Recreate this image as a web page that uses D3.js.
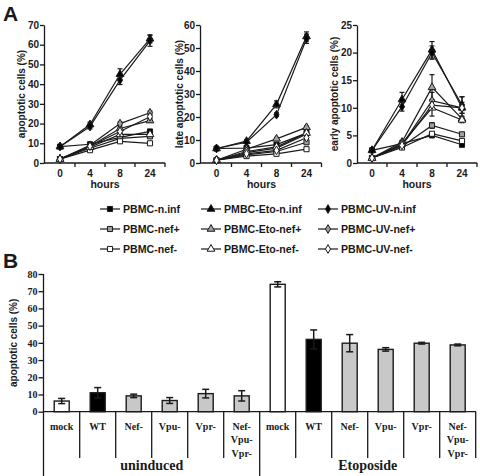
<!DOCTYPE html>
<html><head><meta charset="utf-8">
<script src="https://cdn.jsdelivr.net/npm/d3@7"></script>
<style>body{margin:0;background:#fff} svg{display:block}</style>
</head><body><svg id="c" width="480" height="476"></svg>
<script>
// ---------- Panel A data ----------
const hours = ["0", "4", "8", "24"];
const seriesNames = ["PBMC-n.inf", "PMBC-Eto-n.inf", "PBMC-UV-n.inf",
  "PBMC-nef+", "PBMC-Eto-nef+", "PBMC-UV-nef+",
  "PBMC-nef-", "PBMC-Eto-nef-", "PBMC-UV-nef-"];
const seriesShapes = ["square", "triangle", "diamond", "square", "triangle", "diamond", "square", "triangle", "diamond"];
const seriesFills = ["#000", "#000", "#000", "#a0a0a0", "#a0a0a0", "#a0a0a0", "#fff", "#fff", "#fff"];

const apoptotic = [
  [8.3, 9.5, 13, 16],
  [8.3, 19.5, 45, 63],
  [8.3, 18.5, 42, 62],
  [2, 7.5, 12.5, 13.5],
  [2, 8.5, 17.5, 21.5],
  [2, 9, 20, 25.5],
  [2, 6.5, 11, 10],
  [2, 8, 14.5, 14.5],
  [2, 8.5, 16, 23.5]];
const apoptoticErr = [
  [0.3, 0.6, 0.8, 0.8],
  [0.3, 1.2, 2.8, 2],
  [0.3, 1.2, 2.2, 2.8],
  [0.3, 0.5, 0.8, 0.8],
  [0.3, 0.5, 0.8, 0.8],
  [0.3, 0.5, 0.8, 0.8],
  [0.3, 0.5, 0.8, 0.5],
  [0.3, 0.5, 0.8, 0.8],
  [0.3, 0.5, 0.8, 0.8]];

const lateApoptotic = [
  [6.3, 6.5, 8, 13],
  [6.3, 9.5, 25.5, 55],
  [6.3, 9, 21, 54],
  [1.2, 3.5, 5, 9],
  [1.2, 6, 10.5, 15.5],
  [1.2, 4.5, 6.5, 12.5],
  [1.2, 3, 4, 6],
  [1.2, 5, 7, 13],
  [1.2, 4, 5.5, 11]];
const lateApoptoticErr = [
  [0.3, 0.5, 0.6, 0.8],
  [0.3, 0.6, 1.5, 2],
  [0.3, 0.6, 0.8, 2],
  [0.2, 0.4, 0.4, 0.6],
  [0.2, 0.4, 0.6, 0.6],
  [0.2, 0.4, 0.4, 0.6],
  [0.2, 0.4, 0.4, 0.4],
  [0.2, 0.4, 0.4, 0.6],
  [0.2, 0.4, 0.4, 0.6]];

const earlyApoptotic = [
  [2.3, 3.5, 5, 3.3],
  [2.3, 11.5, 20.5, 10],
  [2.3, 10.2, 20, 10.5],
  [0.9, 3, 6.8, 5.2],
  [0.9, 3.8, 13.7, 8],
  [0.9, 3.3, 11.3, 10],
  [0.9, 2.8, 5.3, 4],
  [0.9, 3.5, 10, 7.8],
  [0.9, 3.2, 10.5, 10]];
const earlyApoptoticErr = [
  [0.1, 0.2, 0.3, 0.2],
  [0.1, 1.3, 1.5, 2],
  [0.1, 0.8, 1.2, 1.5],
  [0.1, 0.2, 0.5, 0.3],
  [0.1, 0.3, 2.3, 0.5],
  [0.1, 0.2, 1.5, 0.5],
  [0.1, 0.2, 0.3, 0.3],
  [0.1, 0.2, 1.5, 0.5],
  [0.1, 0.2, 0.8, 1]];

// ---------- Panel B data ----------
const bCategories = ["mock", "WT", "Nef-", "Vpu-", "Vpr-", "Nef-|Vpu-|Vpr-",
  "mock", "WT", "Nef-", "Vpu-", "Vpr-", "Nef-|Vpu-|Vpr-"];
const bGroups = ["uninduced", "Etoposide"];
const bValues = [6.2, 11, 9.2, 6.5, 10.5, 9.2, 74, 42, 39.8, 36.2, 39.8, 38.8];
const bErrors = [1.5, 3, 1, 1.7, 2.5, 3, 1.5, 5.5, 5, 1, 0.5, 0.5];
const bYTicks = [0, 10, 20, 30, 40, 50, 60, 70, 80];

const svg = d3.select("#c");
const sans = "'Liberation Sans', Arial, sans-serif";
const serif = "'Liberation Serif', 'Times New Roman', serif";
const ink = "#1a1a1a";

function symbolFor(shape) {
  if (shape === "square") return d3.symbol().type(d3.symbolSquare).size(26)();
  if (shape === "triangle") return d3.symbol().type(d3.symbolTriangle).size(26)();
  return d3.symbol().type(d3.symbolDiamond).size(22)();
}

// ---------- Panel A charts ----------
function lineChart(opts) {
  const { axisX, bandStart, top, bottom, max, step, data, err, label, labelX } = opts;
  const g = svg.append("g");
  const x = d3.scaleBand().domain(hours).range([bandStart, bandStart + 120]);
  const y = d3.scaleLinear().domain([0, max]).range([bottom, top]);

  const yAxis = d3.axisLeft(y).tickValues(d3.range(0, max + 0.001, step)).tickSize(4).tickSizeOuter(0);
  const ya = g.append("g").attr("transform", `translate(${axisX},0)`).call(yAxis);
  ya.select(".domain").attr("stroke", ink).attr("stroke-width", 1.3);
  ya.selectAll(".tick line").attr("stroke", ink).attr("stroke-width", 1.3);
  ya.selectAll("text").attr("font-family", sans).attr("font-weight", "bold").attr("font-size", 10).attr("fill", ink).attr("x", -5);

  g.append("line").attr("x1", axisX).attr("x2", bandStart + 120).attr("y1", bottom).attr("y2", bottom)
    .attr("stroke", ink).attr("stroke-width", 1.3);
  hours.forEach((h) => {
    const bxp = x(h) + x.bandwidth();
    g.append("line").attr("x1", bxp).attr("x2", bxp).attr("y1", bottom).attr("y2", bottom + 4)
      .attr("stroke", ink).attr("stroke-width", 1.3);
    g.append("text").attr("x", x(h) + x.bandwidth() / 2).attr("y", bottom + 14)
      .attr("text-anchor", "middle").attr("font-family", sans).attr("font-weight", "bold")
      .attr("font-size", 10).attr("fill", ink).text(h);
  });
  g.append("text").attr("x", bandStart + 60).attr("y", bottom + 25).attr("text-anchor", "middle")
    .attr("font-family", sans).attr("font-weight", "bold").attr("font-size", 10.5).attr("fill", ink).text("hours");

  g.append("text").attr("transform", `translate(${labelX},${(top + bottom) / 2}) rotate(-90)`)
    .attr("text-anchor", "middle").attr("font-family", sans).attr("font-weight", "bold")
    .attr("font-size", 10).attr("fill", ink).text(label);

  const cx = h => x(h) + x.bandwidth() / 2;
  const line = d3.line().x((d, i) => cx(hours[i])).y(d => y(d));
  data.forEach(s => {
    g.append("path").attr("d", line(s)).attr("fill", "none").attr("stroke", ink).attr("stroke-width", 1.2);
  });
  data.forEach((s, si) => {
    s.forEach((v, i) => {
      const e = err[si][i];
      const px = cx(hours[i]);
      g.append("line").attr("x1", px).attr("x2", px).attr("y1", y(v - e)).attr("y2", y(v + e))
        .attr("stroke", ink).attr("stroke-width", 1.2);
      [v - e, v + e].forEach(t => g.append("line").attr("x1", px - 2.5).attr("x2", px + 2.5)
        .attr("y1", y(t)).attr("y2", y(t)).attr("stroke", ink).attr("stroke-width", 1.2));
    });
  });
  data.forEach((s, si) => {
    s.forEach((v, i) => {
      g.append("path").attr("d", symbolFor(seriesShapes[si]))
        .attr("transform", `translate(${cx(hours[i])},${y(v)})`)
        .attr("fill", seriesFills[si]).attr("stroke", ink).attr("stroke-width", 1);
    });
  });
}

lineChart({ axisX: 44, bandStart: 45, top: 25, bottom: 163, max: 70, step: 10,
  data: apoptotic, err: apoptoticErr, label: "apoptotic cells (%)", labelX: 25 });
lineChart({ axisX: 200, bandStart: 201.5, top: 25, bottom: 163, max: 60, step: 10,
  data: lateApoptotic, err: lateApoptoticErr, label: "late apoptotic cells (%)", labelX: 183 });
lineChart({ axisX: 357, bandStart: 357, top: 25, bottom: 163, max: 25, step: 5,
  data: earlyApoptotic, err: earlyApoptoticErr, label: "early apoptotic cells (%)", labelX: 338 });

svg.append("text").attr("x", 3).attr("y", 21).attr("font-family", sans).attr("font-weight", "bold")
  .attr("font-size", 21).attr("fill", ink).text("A");
svg.append("text").attr("x", 3).attr("y", 268).attr("font-family", sans).attr("font-weight", "bold")
  .attr("font-size", 21).attr("fill", ink).text("B");

// ---------- Legend ----------
const legCols = [100, 201, 318];
const legRows = [209, 229, 249];
seriesNames.forEach((name, i) => {
  const lx = legCols[i % 3], ly = legRows[Math.floor(i / 3)];
  svg.append("line").attr("x1", lx).attr("x2", lx + 20).attr("y1", ly).attr("y2", ly)
    .attr("stroke", ink).attr("stroke-width", 1.2);
  svg.append("path").attr("d", symbolFor(seriesShapes[i])).attr("transform", `translate(${lx + 10},${ly})`)
    .attr("fill", seriesFills[i]).attr("stroke", ink).attr("stroke-width", 1);
  svg.append("text").attr("x", lx + 23).attr("y", ly + 4).attr("font-family", sans).attr("font-weight", "bold")
    .attr("font-size", 10.6).attr("fill", ink).text(name);
});

// ---------- Panel B ----------
const bx = d3.scaleBand().domain(d3.range(bCategories.length)).range([43.7, 475.7]);
const by = d3.scaleLinear().domain([0, 80]).range([411.7, 274]);
const gB = svg.append("g");
const bAxis = d3.axisLeft(by).tickValues(bYTicks).tickSize(5).tickSizeOuter(0);
const bya = gB.append("g").attr("transform", "translate(43.5,0)").call(bAxis);
bya.select(".domain").remove();
bya.selectAll(".tick line").attr("stroke", ink).attr("stroke-width", 1.3);
bya.selectAll("text").attr("font-family", serif).attr("font-weight", "bold").attr("font-size", 10).attr("fill", ink).attr("x", -6);
gB.append("line").attr("x1", 43.5).attr("x2", 43.5).attr("y1", 274).attr("y2", 476).attr("stroke", ink).attr("stroke-width", 1.3);
gB.append("line").attr("x1", 43.5).attr("x2", 476).attr("y1", by(0)).attr("y2", by(0)).attr("stroke", ink).attr("stroke-width", 1.3);
gB.append("text").attr("transform", `translate(17,${(274 + 411.7) / 2}) rotate(-90)`)
  .attr("text-anchor", "middle").attr("font-family", sans).attr("font-weight", "bold")
  .attr("font-size", 10).attr("fill", ink).text("apoptotic cells (%)");

const barW = 15;
bValues.forEach((v, i) => {
  const c = bx(i) + bx.bandwidth() / 2;
  const cat = bCategories[i];
  const fill = cat === "mock" ? "#fff" : cat === "WT" ? "#000" : "#c8c8c8";
  gB.append("rect").attr("x", c - barW / 2).attr("y", by(v)).attr("width", barW).attr("height", by(0) - by(v))
    .attr("fill", fill).attr("stroke", ink).attr("stroke-width", 1.4);
  const e = bErrors[i];
  gB.append("line").attr("x1", c).attr("x2", c).attr("y1", by(v - e)).attr("y2", by(v + e)).attr("stroke", ink).attr("stroke-width", 1.5);
  [v - e, v + e].forEach(t => gB.append("line").attr("x1", c - 3.5).attr("x2", c + 3.5).attr("y1", by(t)).attr("y2", by(t))
    .attr("stroke", ink).attr("stroke-width", 1.5));
  cat.split("|").forEach((ln, k) => {
    gB.append("text").attr("x", c).attr("y", 430 + k * 13.3).attr("text-anchor", "middle")
      .attr("font-family", serif).attr("font-weight", "bold").attr("font-size", 10).attr("fill", ink).text(ln);
  });
});
d3.range(1, bCategories.length + 1).forEach(k => {
  const sx = bx.range()[0] + k * bx.bandwidth();
  const long = k === 6;
  gB.append("line").attr("x1", sx).attr("x2", sx).attr("y1", by(0)).attr("y2", long ? 476 : 458)
    .attr("stroke", ink).attr("stroke-width", 1.3);
});
bGroups.forEach((gname, gi) => {
  const cxg = bx.range()[0] + (gi * 6 + 3) * bx.bandwidth();
  gB.append("text").attr("x", cxg).attr("y", 470).attr("text-anchor", "middle")
    .attr("font-family", serif).attr("font-weight", "bold").attr("font-size", 14).attr("fill", ink).text(gname);
});
</script></body></html>
